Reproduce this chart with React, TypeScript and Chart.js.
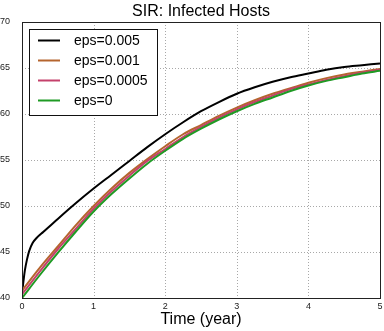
import React, { useEffect, useRef } from "react";
import { Chart, registerables } from "chart.js";

Chart.register(...registerables);

const chartTitle = "SIR: Infected Hosts";
const xAxisTitle = "Time (year)";
const seriesLabels = ["eps=0.005", "eps=0.001", "eps=0.0005", "eps=0"];
const seriesColors = ["#000000", "#b5652f", "#c4416b", "#1f9a24"];

const timesFine = [0, 0.02, 0.04, 0.07, 0.1, 0.15, 0.2, 0.3, 0.5, 0.75, 1, 1.25, 1.5, 1.75, 2, 2.25, 2.5, 2.75, 3, 3.25, 3.5, 3.75, 4, 4.25, 4.5, 4.75, 5];
const infectedEps005 = [40.5, 41.8, 43.0, 44.2, 45.1, 46.0, 46.5, 47.2, 48.6, 50.3, 51.9, 53.4, 54.9, 56.4, 57.8, 59.1, 60.3, 61.3, 62.2, 62.9, 63.5, 64.0, 64.4, 64.8, 65.1, 65.3, 65.5];

const timesGrid = [0, 0.25, 0.5, 0.75, 1, 1.25, 1.5, 1.75, 2, 2.25, 2.5, 2.75, 3, 3.25, 3.5, 3.75, 4, 4.25, 4.5, 4.75, 5];
const infectedEps001 = [40.8, 43.3, 45.6, 47.9, 50.0, 51.9, 53.6, 55.1, 56.5, 57.8, 58.8, 59.8, 60.7, 61.5, 62.2, 62.8, 63.4, 63.9, 64.3, 64.6, 64.9];
const infectedEps0005 = [40.4, 42.9, 45.3, 47.5, 49.7, 51.6, 53.3, 54.9, 56.2, 57.5, 58.6, 59.6, 60.5, 61.3, 62.0, 62.7, 63.2, 63.7, 64.1, 64.5, 64.8];
const infectedEps0 = [40.0, 42.5, 44.9, 47.2, 49.4, 51.3, 53.0, 54.6, 56.0, 57.3, 58.4, 59.4, 60.3, 61.1, 61.8, 62.5, 63.1, 63.6, 64.0, 64.4, 64.7];

const xTicks = [0, 1, 2, 3, 4, 5];
const yTicks = [40, 45, 50, 55, 60, 65, 70];

const FONT = "'Liberation Sans', Arial, sans-serif";

function toPoints(xs: number[], ys: number[]) {
  return xs.map((x, i) => ({ x, y: ys[i] }));
}

const gridPlugin = {
  id: "dottedGrid",
  beforeDatasetsDraw(chart: any) {
    const { ctx, chartArea, scales } = chart;
    const { left, top, right, bottom } = chartArea;
    ctx.save();
    ctx.strokeStyle = "#a8a8a8";
    ctx.lineWidth = 1;
    ctx.setLineDash([1, 2]);
    scales.x.ticks.forEach((t: any) => {
      const px = Math.round(scales.x.getPixelForValue(t.value)) + 0.5;
      ctx.beginPath();
      ctx.moveTo(px, top);
      ctx.lineTo(px, bottom);
      ctx.stroke();
    });
    scales.y.ticks.forEach((t: any) => {
      const py = Math.round(scales.y.getPixelForValue(t.value)) + 0.5;
      ctx.beginPath();
      ctx.moveTo(left, py);
      ctx.lineTo(right, py);
      ctx.stroke();
    });
    ctx.restore();
  },
};

const framePlugin = {
  id: "frameAndLegend",
  afterDatasetsDraw(chart: any) {
    const { ctx, chartArea } = chart;
    const { left, top, right, bottom } = chartArea;
    ctx.save();
    ctx.strokeStyle = "#222";
    ctx.lineWidth = 1;
    ctx.strokeRect(Math.round(left) + 0.5, Math.round(top) + 0.5, Math.round(right - left), Math.round(bottom - top));

    const bx = left + 7;
    const by = top + 7;
    const bw = 128;
    const bh = 86;
    ctx.fillStyle = "#ffffff";
    ctx.fillRect(bx, by, bw, bh);
    ctx.strokeStyle = "#111";
    ctx.lineWidth = 1;
    ctx.strokeRect(Math.round(bx) + 0.5, Math.round(by) + 0.5, bw, bh);
    ctx.font = `14px ${FONT}`;
    ctx.textBaseline = "middle";
    ctx.textAlign = "left";
    chart.data.datasets.forEach((ds: any, i: number) => {
      const y = by + 11.5 + i * 20;
      ctx.strokeStyle = ds.borderColor;
      ctx.lineWidth = 2;
      ctx.beginPath();
      ctx.moveTo(bx + 9, y);
      ctx.lineTo(bx + 31, y);
      ctx.stroke();
      ctx.fillStyle = "#000";
      ctx.fillText(ds.label, bx + 45, y + 0.5);
    });
    ctx.restore();
  },
};

export default function App() {
  const canvasRef = useRef<HTMLCanvasElement | null>(null);

  useEffect(() => {
    document.body.style.margin = "0";
    const canvas = canvasRef.current;
    if (!canvas) return;
    Chart.defaults.font.family = FONT;
    const seriesValues = [infectedEps005, infectedEps001, infectedEps0005, infectedEps0];
    const seriesTimes = [timesFine, timesGrid, timesGrid, timesGrid];
    const chart = new Chart(canvas, {
      type: "line",
      data: {
        datasets: seriesLabels.map((label, i) => ({
          label,
          data: toPoints(seriesTimes[i], seriesValues[i]),
          borderColor: seriesColors[i],
          backgroundColor: seriesColors[i],
          borderWidth: 2,
          pointRadius: 0,
          cubicInterpolationMode: "monotone" as const,
          fill: false,
          order: seriesLabels.length - i,
        })),
      },
      options: {
        responsive: false,
        animation: false,
        layout: { padding: { left: 0, right: 4, top: 0, bottom: 0 } },
        plugins: {
          legend: { display: false },
          tooltip: { enabled: false },
          title: {
            display: true,
            fullSize: false,
            text: chartTitle,
            color: "#000",
            font: { size: 16, weight: "normal", family: FONT },
            padding: { top: 2, bottom: 0.8 },
          },
        },
        scales: {
          x: {
            type: "linear",
            min: 0,
            max: 5,
            afterBuildTicks: (scale: any) => {
              scale.ticks = xTicks.map((v) => ({ value: v }));
            },
            afterFit: (scale: any) => {
              scale.height = 33;
            },
            ticks: { color: "#222", font: { size: 9 }, padding: -5, maxRotation: 0 },
            grid: { display: false },
            border: { display: false },
            title: {
              display: true,
              text: xAxisTitle,
              color: "#000",
              font: { size: 16, family: FONT },
              padding: { top: 0, bottom: 1.4 },
            },
          },
          y: {
            type: "linear",
            min: 40,
            max: 70,
            afterBuildTicks: (scale: any) => {
              scale.ticks = yTicks.map((v) => ({ value: v }));
            },
            afterFit: (scale: any) => {
              scale.width = 22;
            },
            ticks: { color: "#222", font: { size: 9 }, padding: 4 },
            grid: { display: false },
            border: { display: false },
          },
        },
      } as any,
      plugins: [gridPlugin, framePlugin],
    });
    return () => chart.destroy();
  }, []);

  return (
    <div style={{ position: "absolute", left: 0, top: 0, width: 384, height: 331, background: "#fff" }}>
      <canvas ref={canvasRef} width={384} height={331} style={{ width: 384, height: 331 }} />
    </div>
  );
}
